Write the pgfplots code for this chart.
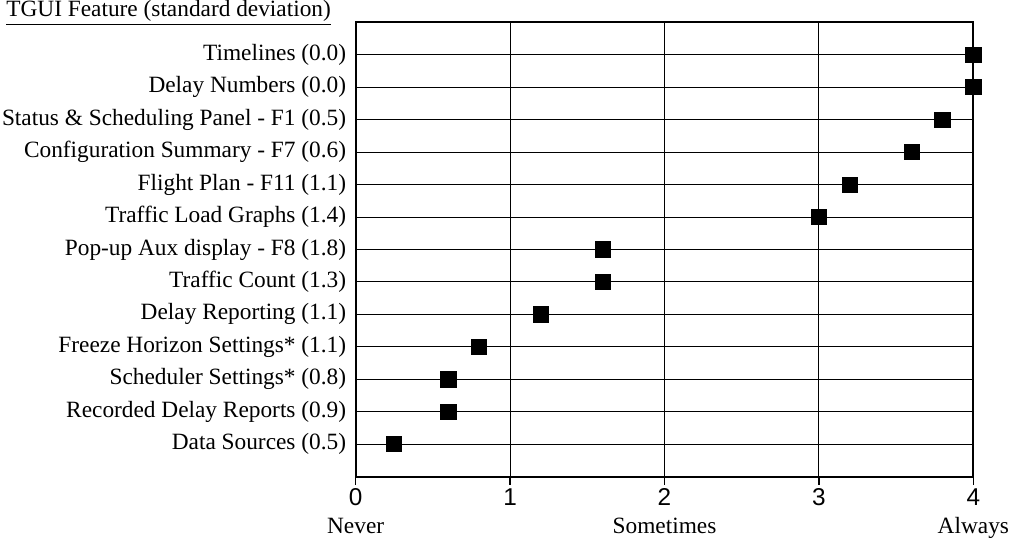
\documentclass[border=0pt]{standalone}
\usepackage{pgfplots}
\pgfplotsset{compat=1.18}
\usepackage{fontspec}
\setmainfont{Liberation Serif}
\setsansfont{Liberation Sans}

\pgfplotstableread[col sep=comma]{
pos,val
13,4.0
12,4.0
11,3.8
10,3.6
9,3.2
8,3.0
7,1.6
6,1.6
5,1.2
4,0.8
3,0.6
2,0.6
1,0.25
}\tguidata

\begin{document}
\fontsize{11.5}{13.5}\selectfont
\begin{tikzpicture}
 \begin{axis}[
  scale only axis,width=304.5pt,height=224pt,
  xmin=0,xmax=4,ymin=0,ymax=14,
  xtick={0,1,2,3,4},
  xtick pos=bottom,
  /pgf/number format/assume math mode=true,
  xticklabel style={font=\sffamily\fontsize{12}{14}\selectfont,inner sep=1.5pt},
  ytick={1,...,13},
  yticklabels={Data Sources (0.5),Recorded Delay Reports (0.9),Scheduler Settings* (0.8),Freeze Horizon Settings* (1.1),Delay Reporting (1.1),Traffic Count (1.3),Pop-up Aux display - F8 (1.8),Traffic Load Graphs (1.4),Flight Plan - F11 (1.1),Configuration Summary - F7 (0.6),Status \& Scheduling Panel - F1 (0.5),Delay Numbers (0.0),Timelines (0.0)},
  yticklabel style={inner sep=1pt,xshift=0.5pt},
  tick align=outside,
  x tick style={black,line width=0.6pt},
  major tick length=4pt,
  y tick style={draw=none},
  grid=major,
  grid style={black,line width=0.5pt},
  axis line style={black,line width=1pt},
  clip=false,
 ]
  \addplot[only marks,mark=square*,mark size=3.75pt,black] table[x=val,y=pos] {\tguidata};
  \node[anchor=base east,inner sep=0pt] at ([xshift=-12pt,yshift=3pt]rel axis cs:0,1) {\underline{TGUI Feature (standard deviation)}};
  \node[anchor=base,inner sep=0pt] at ([yshift=-28pt]axis cs:0,0) {Never};
  \node[anchor=base,inner sep=0pt] at ([yshift=-28pt]axis cs:2,0) {Sometimes};
  \node[anchor=base,inner sep=0pt] at ([yshift=-28pt]axis cs:4,0) {Always};
 \end{axis}
\end{tikzpicture}
\end{document}
